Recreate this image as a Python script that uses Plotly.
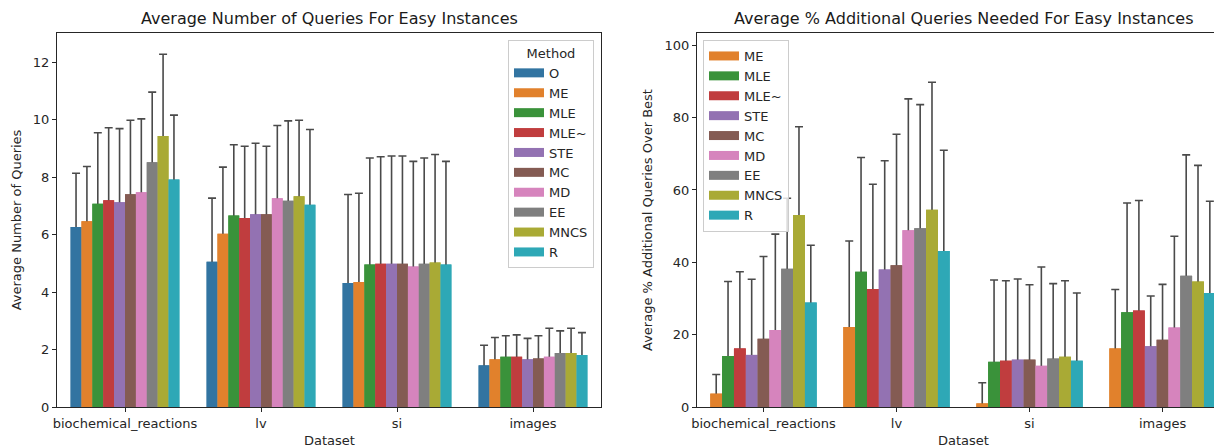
import plotly.graph_objects as go

datasets = ["biochemical_reactions", "lv", "si", "images"]

methods_left = ["O", "ME", "MLE", "MLE~", "STE", "MC", "MD", "EE", "MNCS", "R"]
colors = {
    "O": "#3274a1", "ME": "#e1812c", "MLE": "#3a923a", "MLE~": "#c03d3e",
    "STE": "#9372b2", "MC": "#845b53", "MD": "#d684bd", "EE": "#7f7f7f",
    "MNCS": "#a9aa35", "R": "#2ea8b6",
}

# Average number of queries (mean) and upper error bar end, per dataset
queries_mean = {
    "O":    [6.27, 5.06, 4.32, 1.45],
    "ME":   [6.47, 6.03, 4.35, 1.66],
    "MLE":  [7.08, 6.67, 4.96, 1.75],
    "MLE~": [7.20, 6.58, 4.99, 1.75],
    "STE":  [7.13, 6.71, 4.99, 1.66],
    "MC":   [7.41, 6.71, 4.99, 1.69],
    "MD":   [7.48, 7.27, 4.89, 1.75],
    "EE":   [8.52, 7.18, 4.99, 1.88],
    "MNCS": [9.43, 7.34, 5.03, 1.88],
    "R":    [7.92, 7.04, 4.96, 1.81],
}
queries_upper = {
    "O":    [8.14, 7.27, 7.40, 2.15],
    "ME":   [8.37, 8.35, 7.44, 2.42],
    "MLE":  [9.55, 9.13, 8.67, 2.48],
    "MLE~": [9.72, 9.08, 8.71, 2.51],
    "STE":  [9.69, 9.18, 8.74, 2.39],
    "MC":   [9.98, 9.08, 8.74, 2.48],
    "MD":   [10.03, 9.80, 8.55, 2.74],
    "EE":   [10.96, 9.96, 8.67, 2.65],
    "MNCS": [12.28, 9.98, 8.79, 2.74],
    "R":    [10.16, 9.66, 8.55, 2.59],
}

methods_right = ["ME", "MLE", "MLE~", "STE", "MC", "MD", "EE", "MNCS", "R"]
extra_mean = {
    "ME":   [3.7, 22.1, 1.0, 16.2],
    "MLE":  [14.1, 37.4, 12.5, 26.2],
    "MLE~": [16.2, 32.6, 12.8, 26.7],
    "STE":  [14.4, 38.0, 13.1, 16.8],
    "MC":   [18.9, 39.2, 13.1, 18.6],
    "MD":   [21.3, 48.9, 11.4, 22.0],
    "EE":   [38.2, 49.4, 13.4, 36.3],
    "MNCS": [53.1, 54.5, 13.9, 34.7],
    "R":    [28.9, 43.1, 12.8, 31.5],
}
extra_upper = {
    "ME":   [9.0, 45.9, 6.7, 32.5],
    "MLE":  [34.7, 69.0, 35.1, 56.4],
    "MLE~": [37.4, 61.6, 34.9, 57.1],
    "STE":  [35.3, 68.1, 35.4, 30.7],
    "MC":   [41.6, 75.4, 33.8, 33.9],
    "MD":   [47.8, 85.2, 38.7, 47.2],
    "EE":   [57.7, 83.6, 34.1, 69.7],
    "MNCS": [77.5, 89.8, 34.9, 66.8],
    "R":    [44.7, 71.0, 31.5, 56.9],
}

FONT = "DejaVu Sans"
ERR_COLOR = "#4a4a4a"
FS = 13

fig = go.Figure()

def add_bars(methods, means, uppers, xa, ya, legend, prefix):
    # error bars first (underneath), then bars on top at same offsetgroup
    for m in methods:
        mean = means[m]
        up = [u - v for u, v in zip(uppers[m], mean)]
        fig.add_trace(go.Bar(
            x=datasets, y=mean, xaxis=xa, yaxis=ya,
            offsetgroup=prefix + m, marker_color=colors[m], marker_line_width=0,
            error_y=dict(type="data", symmetric=False, array=up, arrayminus=mean,
                         color=ERR_COLOR, thickness=1.6, width=4),
            showlegend=False, hoverinfo="skip",
        ))
    for m in methods:
        fig.add_trace(go.Bar(
            x=datasets, y=means[m], xaxis=xa, yaxis=ya, name=m,
            offsetgroup=prefix + m, marker_color=colors[m], marker_line_width=0,
            showlegend=False,
        ))
    # legend entries: wide flat swatches like matplotlib patches
    for m in methods:
        fig.add_trace(go.Scatter(
            x=[None], y=[None], xaxis=xa, yaxis=ya, name=m, mode="lines",
            line=dict(color=colors[m], width=9), legend=legend, hoverinfo="skip",
        ))

add_bars(methods_left, queries_mean, queries_upper, "x", "y", "legend", "L")
add_bars(methods_right, extra_mean, extra_upper, "x2", "y2", "legend2", "R")

axis_common = dict(
    showline=True, linecolor="#262626", linewidth=1.2, ticks="outside",
    ticklen=4, tickcolor="#262626", tickwidth=1, showgrid=False, zeroline=False,
    tickfont=dict(family=FONT, size=FS, color="#262626"),
)

# page body has an 8px margin: lay the figure out in page coords minus 8
OFF = 8
W, H = 1222 - OFF, 447 - OFF
L, R, T = 57 - OFF, 0, 33 - OFF
PB = 407 - OFF          # plot bottom (figure px)
B = H - PB
pw = W - L - R
ph = PB - T
d1 = [0, (601 - OFF - L) / pw]
d2 = [(697 - OFF - L) / pw, 1]
right_full_end = (697 - OFF + 4 * 133.3 - L) / pw

fig.update_layout(
    width=W, height=H, margin=dict(l=L, r=R, t=T, b=B),
    paper_bgcolor="white", plot_bgcolor="white",
    barmode="group", bargap=0.2, bargroupgap=0,
    font=dict(family=FONT, size=FS, color="#262626"),
    xaxis=dict(domain=d1, range=[-0.5, 3.5], mirror=True, anchor="y", **axis_common),
    yaxis=dict(domain=[0, 1], range=[0, 13.02], mirror=True, anchor="x",
               tickvals=[0, 2, 4, 6, 8, 10, 12],
               title=dict(text="Average Number of Queries", standoff=8, font=dict(size=FS)),
               **axis_common),
    xaxis2=dict(domain=d2, range=[-0.5, 3.447], mirror=True, anchor="y2", **axis_common),
    yaxis2=dict(domain=[0, 1], range=[0, 103.4], mirror=False, anchor="x2",
                tickvals=[0, 20, 40, 60, 80, 100],
                title=dict(text="Average % Additional Queries Over Best", standoff=8,
                           font=dict(size=FS)),
                **axis_common),
    legend=dict(
        x=(594 - OFF - L) / pw, xanchor="right", y=(PB - (40 - OFF)) / ph, yanchor="top",
        bgcolor="rgba(255,255,255,0.8)", bordercolor="#cccccc", borderwidth=1,
        font=dict(family=FONT, size=FS, color="#262626"),
        title=dict(text="Method", side="top center", font=dict(size=FS)),
        tracegroupgap=0, itemwidth=30,
    ),
    legend2=dict(
        x=(703 - OFF - L) / pw, xanchor="left", y=(PB - (40 - OFF)) / ph, yanchor="top",
        bgcolor="rgba(255,255,255,0.8)", bordercolor="#cccccc", borderwidth=1,
        font=dict(family=FONT, size=FS, color="#262626"),
        tracegroupgap=0, itemwidth=30,
    ),
    annotations=[
        dict(text="Average Number of Queries For Easy Instances", xref="paper", yref="paper",
             x=(d1[0] + d1[1]) / 2, y=1, yshift=3, xanchor="center", yanchor="bottom",
             showarrow=False, font=dict(family=FONT, size=16, color="#1a1a1a")),
        dict(text="Average % Additional Queries Needed For Easy Instances", xref="paper",
             yref="paper", x=(d2[0] + right_full_end) / 2, y=1, yshift=3,
             xanchor="center", yanchor="bottom",
             showarrow=False, font=dict(family=FONT, size=16, color="#1a1a1a")),
        dict(text="Dataset", xref="paper", yref="paper", x=(d1[0] + d1[1]) / 2, y=0,
             yshift=-33, xanchor="center", yanchor="middle", showarrow=False,
             font=dict(family=FONT, size=FS, color="#262626")),
        dict(text="Dataset", xref="paper", yref="paper", x=(d2[0] + right_full_end) / 2, y=0,
             yshift=-33, xanchor="center", yanchor="middle", showarrow=False,
             font=dict(family=FONT, size=FS, color="#262626")),
    ],
)

fig.write_html("out.html")
